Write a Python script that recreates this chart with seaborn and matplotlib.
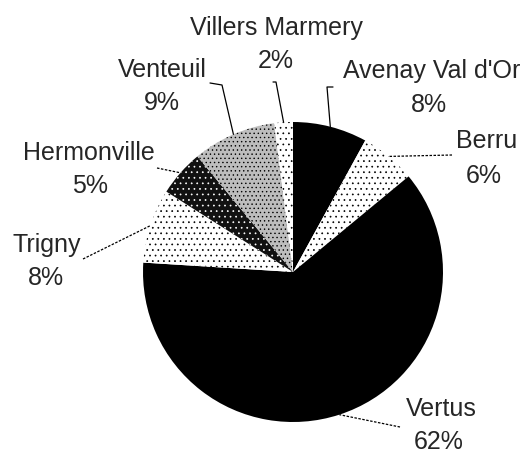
import numpy as np
import matplotlib.pyplot as plt
import seaborn as sns

# slice values, clockwise from 12 o'clock
towns = ["Avenay Val d'Or", "Berru", "Vertus", "Trigny", "Hermonville", "Venteuil", "Villers Marmery"]
shares = [8, 6, 62, 8, 5, 9, 2]
pct_labels = ["8%", "6%", "62%", "8%", "5%", "9%", "2%"]

# fill styles for the scanned look
faces = ["black", "white", "black", "white", "#111111", "#bdbdbd", "white"]
hatches = [None, "...", None, "...", "...", "....", "..."]
hatch_cols = ["black", "black", "black", "black", "white", "black", "black"]

# layout in pixels measured from the top-left corner
H = 455
name_pos = [(432, 78), (487, 148), (441, 416), (47, 252), (89, 160), (162, 77), (276, 35)]
pct_pos = [(429, 112), (484, 183), (439, 449), (46, 285), (90, 193), (162, 110), (276, 68)]
leader_pts = [[(333, 87), (327, 87)], [(452, 155)], [(400, 427)], [(83, 259)],
              [(157, 168)], [(210, 83), (222, 85)], [(273, 82), (276, 82)]]
leader_dotted = [False, True, True, True, True, False, False]

sns.set_theme(style="white")
plt.rcParams['font.family'] = ['Liberation Sans', 'DejaVu Sans']
plt.rcParams['hatch.linewidth'] = 0.5

fig = plt.figure(figsize=(5.25, 4.55), dpi=100)
ax = fig.add_axes([0, 0, 1, 1])

cx, cy, r = 293, H - 272, 150
wedges, _ = ax.pie(shares, startangle=90, counterclock=False, center=(cx, cy),
                   radius=r, colors=faces, wedgeprops=dict(linewidth=0))
for w, h, hc in zip(wedges, hatches, hatch_cols):
    if h:
        w.set_hatch(h)
        w.set_edgecolor(hc)

ax.set_xlim(0, 525)
ax.set_ylim(0, H)
ax.set_aspect('equal')
ax.axis('off')

for i, w in enumerate(wedges):
    mid = np.deg2rad((w.theta1 + w.theta2) / 2)
    ex, ey = cx + r * np.cos(mid), cy + r * np.sin(mid)
    xs = [p[0] for p in leader_pts[i]] + [ex]
    ys = [H - p[1] for p in leader_pts[i]] + [ey]
    ls = (0, (2, 1.2)) if leader_dotted[i] else '-'
    ax.plot(xs, ys, color='black', lw=0.9, ls=ls)

    nx, ny = name_pos[i]
    px, py = pct_pos[i]
    ax.text(nx, H - ny, towns[i], ha='center', va='baseline', fontsize=18)
    ax.text(px, H - py, pct_labels[i], ha='center', va='baseline', fontsize=18)

plt.savefig('out.png', dpi=100)
